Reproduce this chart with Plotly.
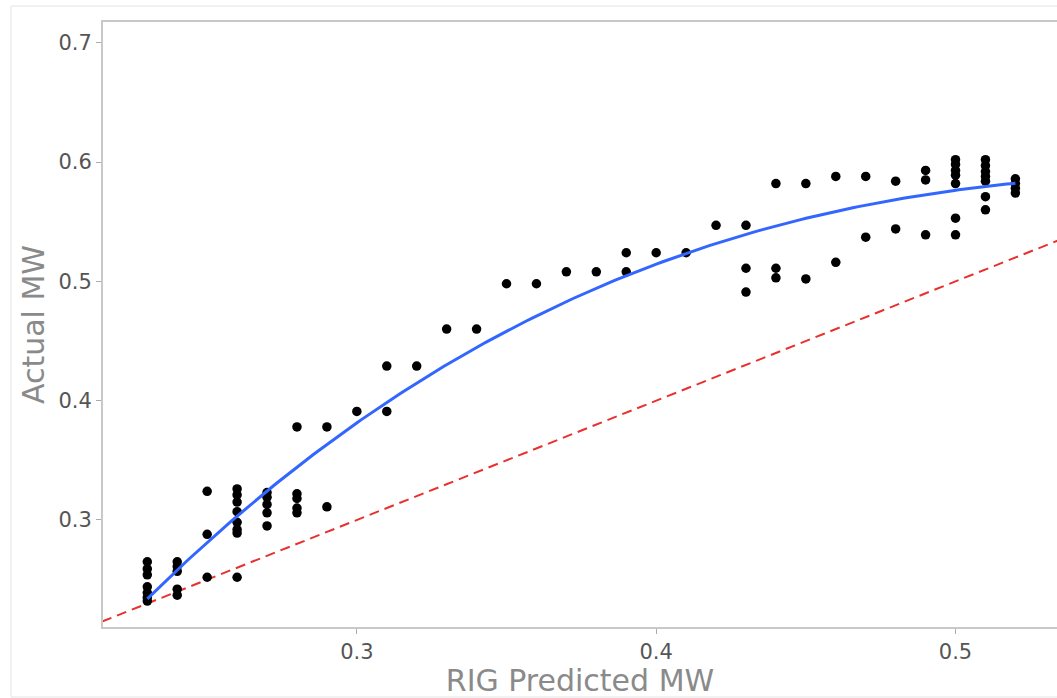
import numpy as np
import plotly.graph_objects as go

# ---- data ----
pred_mw = (
    [0.23] * 7 + [0.24] * 5 + [0.25] * 3 + [0.26] * 8 + [0.27] * 5 + [0.28] * 5 +
    [0.29] * 2 + [0.30] + [0.31] * 2 + [0.32] + [0.33] + [0.34] + [0.35] + [0.36] +
    [0.37] + [0.38] + [0.39] * 2 + [0.40] + [0.41] + [0.42] + [0.43] * 3 + [0.44] * 3 +
    [0.45] * 2 + [0.46] * 2 + [0.47] * 2 + [0.48] * 2 + [0.49] * 3 + [0.50] * 7 +
    [0.51] * 7 + [0.52] * 4
)
actual_mw = [
    0.265, 0.259, 0.254, 0.244, 0.239, 0.235, 0.232,          # 0.23
    0.265, 0.261, 0.257, 0.242, 0.237,                        # 0.24
    0.324, 0.288, 0.252,                                      # 0.25
    0.326, 0.321, 0.315, 0.307, 0.298, 0.292, 0.289, 0.252,   # 0.26
    0.323, 0.319, 0.313, 0.306, 0.295,                        # 0.27
    0.378, 0.322, 0.318, 0.310, 0.306,                        # 0.28
    0.378, 0.311,                                             # 0.29
    0.391,                                                    # 0.30
    0.429, 0.391,                                             # 0.31
    0.429,                                                    # 0.32
    0.460,                                                    # 0.33
    0.460,                                                    # 0.34
    0.498,                                                    # 0.35
    0.498,                                                    # 0.36
    0.508,                                                    # 0.37
    0.508,                                                    # 0.38
    0.524, 0.508,                                             # 0.39
    0.524,                                                    # 0.40
    0.524,                                                    # 0.41
    0.547,                                                    # 0.42
    0.547, 0.511, 0.491,                                      # 0.43
    0.582, 0.511, 0.503,                                      # 0.44
    0.582, 0.502,                                             # 0.45
    0.588, 0.516,                                             # 0.46
    0.588, 0.537,                                             # 0.47
    0.584, 0.544,                                             # 0.48
    0.593, 0.585, 0.539,                                      # 0.49
    0.602, 0.598, 0.593, 0.589, 0.582, 0.553, 0.539,          # 0.50
    0.602, 0.597, 0.592, 0.588, 0.584, 0.571, 0.560,          # 0.51
    0.586, 0.582, 0.578, 0.574,                               # 0.52
]
identity_x = [0.2, 0.6]   # y = x reference line
x_ticks = [0.3, 0.4, 0.5]
y_ticks = [0.3, 0.4, 0.5, 0.6, 0.7]

# smooth trend fitted to the scatter (cubic least squares)
coef = np.polyfit(np.array(pred_mw), np.array(actual_mw), 3)
fit_x = np.linspace(min(pred_mw), max(pred_mw), 200)
fit_y = np.polyval(coef, fit_x)

fig = go.Figure()
fig.add_trace(go.Scatter(
    x=identity_x, y=identity_x, mode="lines",
    line=dict(color="#e8302e", width=2, dash="10px,6px"),
    hoverinfo="skip", showlegend=False))
fig.add_trace(go.Scatter(
    x=pred_mw, y=actual_mw, mode="markers",
    marker=dict(color="black", size=9.5),
    showlegend=False))
fig.add_trace(go.Scatter(
    x=fit_x, y=fit_y, mode="lines",
    line=dict(color="#3366FF", width=3),
    showlegend=False))

axis_font = dict(family="DejaVu Sans", size=21, color="#555555")
title_font = dict(family="DejaVu Sans", size=30, color="#8a8a8a")

fig.update_layout(
    width=1057, height=698,
    margin=dict(l=103, r=0, t=22, b=71),
    plot_bgcolor="white", paper_bgcolor="white",
    showlegend=False,
    xaxis=dict(
        range=[0.2152, 0.5339], tickvals=x_ticks, ticktext=["0.3", "0.4", "0.5"],
        showgrid=False, zeroline=False,
        showline=True, linecolor="#c8c8c8", linewidth=2, mirror=True,
        ticks="outside", ticklen=5, tickcolor="#aaaaaa", tickwidth=1,
        tickfont=axis_font,
        title=dict(text="RIG Predicted MW", font=title_font, standoff=10),
    ),
    yaxis=dict(
        range=[0.2103, 0.7174], tickvals=y_ticks, ticktext=["0.3", "0.4", "0.5", "0.6", "0.7"],
        showgrid=False, zeroline=False,
        showline=True, linecolor="#c8c8c8", linewidth=2, mirror=False,
        ticks="outside", ticklen=5, tickcolor="#aaaaaa", tickwidth=1,
        tickfont=axis_font,
        title=dict(text="Actual MW", font=title_font, standoff=5),
    ),
    shapes=[dict(type="rect", xref="paper", yref="paper",
                 x0=-0.0964, x1=1.05, y0=-0.1157, y1=1.0264,
                 line=dict(color="#e4e4e4", width=1), layer="below")],
)

fig.write_html("out.html")
